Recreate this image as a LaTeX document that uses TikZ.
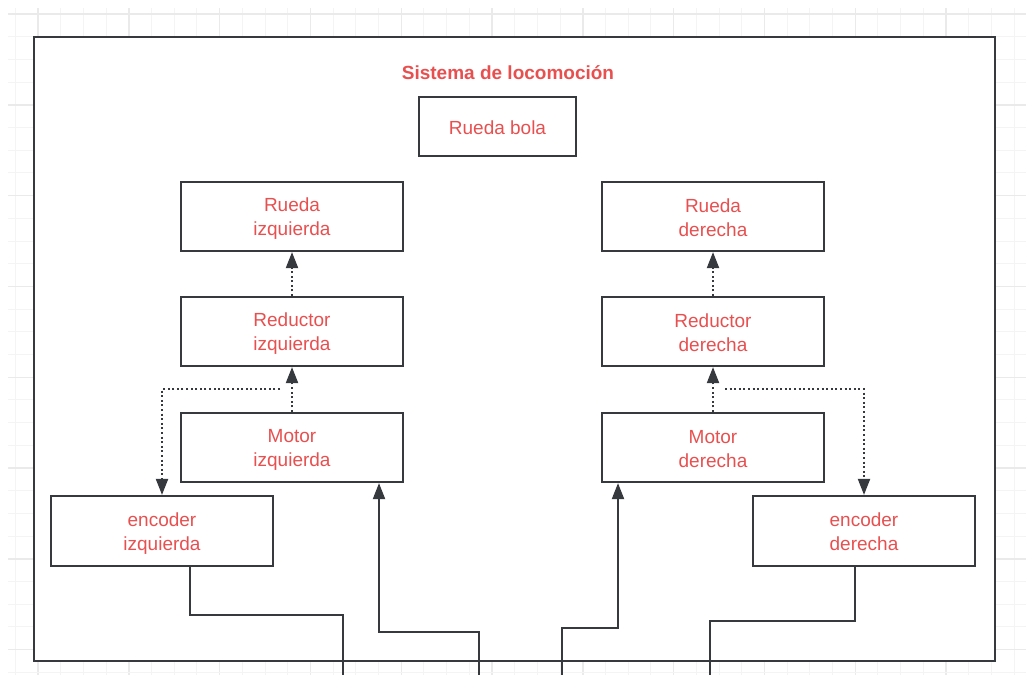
\documentclass[tikz,border=0pt]{standalone}
\usepackage{fontspec}
\setmainfont{Liberation Sans}
\usetikzlibrary{arrows.meta}
\definecolor{linec}{RGB}{54,57,61}
\definecolor{redt}{RGB}{232,80,80}
\definecolor{gridminor}{RGB}{244,244,244}
\definecolor{gridmajor}{RGB}{234,234,234}
\newcommand{\mystrut}{\rule[-2.8pt]{0pt}{20.8pt}}
\newcommand{\twolines}[2]{\mystrut #1\\\mystrut #2}
\tikzset{
  blockbox/.style={rectangle, draw=linec, line width=2.2pt, fill=white, minimum width=222pt, minimum height=69pt, align=center, text=redt, inner sep=0pt, font=\fontsize{19}{24}\selectfont},
  dotconn/.style={draw=linec, line width=2pt, dash pattern=on 2pt off 2.6pt, -{Triangle[length=16pt,width=12pt]}},
  solconn/.style={draw=linec, line width=2pt},
  solarrow/.style={solconn, -{Triangle[length=16pt,width=12pt]}},
}
\begin{document}
\begin{tikzpicture}[x=1pt,y=-1pt]
\useasboundingbox (0,0) rectangle (1026,675);
\fill[white] (0,0) rectangle (1026,675);
% grid
\foreach \i in {0,...,45} {
  \pgfmathsetmacro{\gx}{15.3+22.7*\i}
  \pgfmathtruncatemacro{\m}{mod(\i,4)}
  \ifnum\m=1
    \draw[gridmajor, line width=1.4pt] (\gx,8) -- (\gx,675);
  \else
    \draw[gridminor, line width=1pt] (\gx,8) -- (\gx,675);
  \fi
}
\foreach \j in {0,...,29} {
  \pgfmathsetmacro{\gy}{14+22.7*\j}
  \pgfmathtruncatemacro{\m}{mod(\j,4)}
  \ifnum\m=0
    \draw[gridmajor, line width=1.4pt] (8,\gy) -- (1026,\gy);
  \else
    \draw[gridminor, line width=1pt] (8,\gy) -- (1026,\gy);
  \fi
}
% container
\node[rectangle, draw=linec, line width=2.5pt, fill=white, minimum width=961pt, minimum height=624pt, inner sep=0pt] (cont) at (514.5,349) {};
\node[text=redt, font=\fontsize{19}{23}\selectfont\bfseries] (title) at (508,73) {Sistema de locomoción};
% boxes
\node[blockbox, minimum width=157pt, minimum height=59pt] (bola) at (497.5,126.5) {\mystrut Rueda bola};
\node[blockbox] (rizq) at (292,216.5) {\twolines{Rueda}{izquierda}};
\node[blockbox] (redizq) at (292,331.5) {\twolines{Reductor}{izquierda}};
\node[blockbox] (motizq) at (292,447.5) {\twolines{Motor}{izquierda}};
\node[blockbox, minimum height=70pt] (encizq) at (162,531) {\twolines{encoder}{izquierda}};
\node[blockbox] (rder) at (713,216.5) {\twolines{Rueda}{derecha}};
\node[blockbox] (redder) at (713,331.5) {\twolines{Reductor}{derecha}};
\node[blockbox] (motder) at (713,447.5) {\twolines{Motor}{derecha}};
\node[blockbox, minimum height=70pt] (encder) at (864,531) {\twolines{encoder}{derecha}};
% dotted connectors
\draw[dotconn] (motizq.north) -- (redizq.south);
\draw[dotconn] (redizq.north) -- (rizq.south);
\draw[dotconn] (motder.north) -- (redder.south);
\draw[dotconn] (redder.north) -- (rder.south);
\coordinate (dl) at (280,389);
\coordinate (dr) at (725,389);
\draw[dotconn] (dl) -| (encizq.north);
\draw[dotconn] (dr) -| (encder.north);
% solid connectors
\coordinate (b1) at (479,675);
\coordinate (p1) at (379,632);
\draw[solarrow] (b1) |- (p1) -- (p1 |- motizq.south);
\coordinate (b2) at (562,675);
\coordinate (p2) at (618,628);
\draw[solarrow] (b2) |- (p2) -- (p2 |- motder.south);
\coordinate (e1) at (190,615);
\coordinate (b3) at (343,675);
\draw[solconn] (e1 |- encizq.south) -- (e1) -| (b3);
\coordinate (e2) at (855,621);
\coordinate (b4) at (710,675);
\draw[solconn] (e2 |- encder.south) -- (e2) -| (b4);
\end{tikzpicture}
\end{document}
